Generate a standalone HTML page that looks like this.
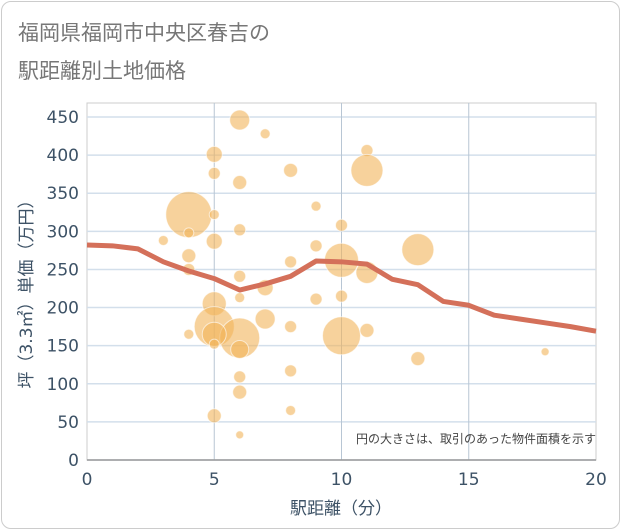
<!DOCTYPE html>
<html><head><meta charset="utf-8"><style>
body{margin:0;background:#fff;font-family:"DejaVu Sans","Noto Sans CJK JP",sans-serif}
#card{position:absolute;left:1px;top:1px;width:617px;height:526px;border:1px solid #ccc;border-radius:10px;background:#fff}
</style></head><body>
<div id="card"></div>
<svg id="chart" width="621" height="530" style="position:absolute;left:0;top:0">
<text x="18" y="40" font-size="21" fill="#777">福岡県福岡市中央区春吉の</text>
<text x="18" y="78" font-size="21" fill="#777">駅距離別土地価格</text>
<g id="grid"></g><g id="bubbles"></g><g id="line"></g><g id="axes"></g>
<text x="596" y="443" font-size="12" fill="#444" text-anchor="end">円の大きさは、取引のあった物件面積を示す</text>
<text x="341" y="514" font-size="17" fill="#3d5266" text-anchor="middle">駅距離（分）</text>
<text transform="translate(32,290) rotate(-90)" font-size="17" fill="#3d5266" text-anchor="middle">坪（3.3㎡）単価（万円）</text>
</svg>
<script>
const xTicks=[0,5,10,15,20];
const yTicks=[0,50,100,150,200,250,300,350,400,450];
const bubbleX=[6,7,5,11,11,8,5,6,9,4,5,10,6,3,4,5,9,13,4,10,8,6,4,11,7,6,9,10,5,7,8,5,6,10,11,4,5,5,6,13,18,6,8,6,5,8,6];
const bubbleY=[446,428,401,406,380,380,376,364,333,322,322,308,302,288,298,287,281,276,268,262,260,241,250,246,226,213,211,215,205,185,175,175,160,163,170,165,165,152,145,133,142,109,117,89,58,65,33];
const bubbleR=[10,5,8,6,16,7,6,7,5,23,5,6,6,5,5,8,6,16,7,17,6,6,6,11,8,5,6,6,12,10,6,20,20,19,7,5,12,5,9,7,4,6,6,7,7,5,4];
const lineX=[0,1,2,3,4,5,6,7,8,9,10,11,12,13,14,15,16,17,18,19,20];
const lineY=[282,281,277,260,248,238,223,231,241,261,260,257,237,230,208,203,190,185,180,175,169];
const NS="http://www.w3.org/2000/svg";
const X0=87,X1=596,Y0=460,Y450=117;
const sx=v=>X0+(X1-X0)*v/20;
const sy=v=>Y0-(Y0-Y450)*v/450;
function mk(t,a,p){const e=document.createElementNS(NS,t);for(const k in a)e.setAttribute(k,a[k]);document.getElementById(p).appendChild(e);return e;}
mk('rect',{x:X0,y:103,width:X1-X0,height:Y0-103,fill:'none',stroke:'#ccc'},'grid');
yTicks.forEach(v=>{const l=mk('line',{x1:X0,x2:X1,y1:sy(v),y2:sy(v),stroke:'#d3dfeb','stroke-width':1.5},'grid');


const t=mk('text',{x:X0-8,y:sy(v)+6,'font-size':17,fill:'#3d5266','text-anchor':'end'},'axes');t.textContent=v;

});
xTicks.forEach(v=>{if(v>0&&v<20){const l=mk('line',{x1:sx(v),x2:sx(v),y1:103,y2:Y0,stroke:'#b8c6d4'},'grid');

}
const t=mk('text',{x:sx(v),y:Y0+25,'font-size':17,fill:'#3d5266','text-anchor':'middle'},'axes');t.textContent=v;

});
const ax=mk('line',{x1:X0,x2:X1,y1:Y0,y2:Y0,stroke:'#999','stroke-width':1.5},'axes');


bubbleX.forEach((x,i)=>{const c=mk('circle',{cx:sx(x),cy:sy(bubbleY[i]),r:bubbleR[i],fill:'rgba(242,180,90,0.6)',stroke:'rgba(255,255,255,0.6)'},'bubbles');

});
const p=mk('polyline',{points:lineX.map((x,i)=>sx(x)+','+sy(lineY[i])).join(' '),fill:'none',stroke:'#d4705a','stroke-width':5,'stroke-linejoin':'round'},'line');


</script>
</body></html>
